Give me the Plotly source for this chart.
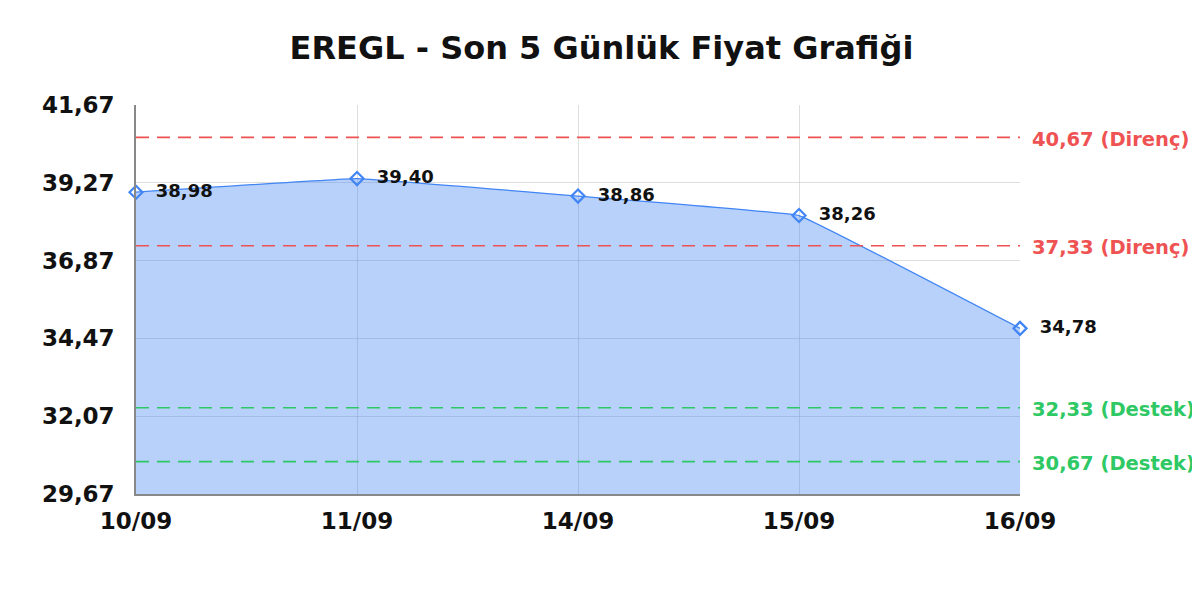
import plotly.graph_objects as go

dates = ["10/09", "11/09", "14/09", "15/09", "16/09"]
prices = [38.98, 39.40, 38.86, 38.26, 34.78]
price_labels = ["38,98", "39,40", "38,86", "38,26", "34,78"]
y_ticks = [29.67, 32.07, 34.47, 36.87, 39.27, 41.67]
y_tick_labels = ["29,67", "32,07", "34,47", "36,87", "39,27", "41,67"]
resistance = [40.67, 37.33]
resistance_labels = ["40,67 (Direnç)", "37,33 (Direnç)"]
support = [32.33, 30.67]
support_labels = ["32,33 (Destek)", "30,67 (Destek)"]

FONT = "DejaVu Sans"
RED = "rgb(238,82,82)"
GREEN = "rgb(46,200,100)"
BLUE = "rgb(66,133,244)"

fig = go.Figure()
xi = list(range(len(dates)))
fig.add_trace(go.Scatter(
    x=xi, y=prices, mode="lines+markers+text",
    line=dict(color=BLUE, width=1.3, shape="spline", smoothing=0.15),
    fill="tozeroy", fillcolor="rgba(66,133,244,0.38)",
    marker=dict(symbol="diamond-open", size=10, color=BLUE, line=dict(width=2.2, color=BLUE)),
    text=["  " + t for t in price_labels], textposition="middle right",
    textfont=dict(family=FONT, size=18, color="#111", weight="bold"),
    cliponaxis=False, showlegend=False, hoverinfo="skip",
))

shapes = []
annotations = []
for v, lab in zip(resistance, resistance_labels):
    shapes.append(dict(type="line", xref="paper", x0=0, x1=1, yref="y", y0=v, y1=v,
                       line=dict(color=RED, width=1.6, dash="13px,8px"), layer="above"))
    annotations.append(dict(xref="paper", x=1, xanchor="left", xshift=10, yref="y", y=v,
                            yshift=-2, text=lab, showarrow=False,
                            font=dict(family=FONT, size=19.5, color=RED, weight="bold")))
for v, lab in zip(support, support_labels):
    shapes.append(dict(type="line", xref="paper", x0=0, x1=1, yref="y", y0=v, y1=v,
                       line=dict(color=GREEN, width=1.6, dash="13px,8px"), layer="above"))
    annotations.append(dict(xref="paper", x=1, xanchor="left", xshift=10, yref="y", y=v,
                            yshift=-2, text=lab, showarrow=False,
                            font=dict(family=FONT, size=19.5, color=GREEN, weight="bold")))

fig.update_layout(
    width=1200, height=600,
    margin=dict(l=128, r=188, t=97, b=114),
    paper_bgcolor="white", plot_bgcolor="white",
    title=dict(text="<b>EREGL - Son 5 Günlük Fiyat Grafiği</b>", x=0.4946, xanchor="center",
               y=0.933, yanchor="middle",
               font=dict(family=FONT, size=32, color="#111")),
    xaxis=dict(range=[0, 4], tickvals=xi, ticktext=dates,
               showgrid=True, gridcolor="rgba(200,200,200,0.6)", gridwidth=1,
               showline=True, linecolor="#888", linewidth=1.5,
               zeroline=False, ticks="", ticklen=0, ticklabelstandoff=6,
               tickfont=dict(family=FONT, size=23, color="#111", weight="bold")),
    yaxis=dict(range=[29.67, 41.67], tickvals=y_ticks, ticktext=y_tick_labels,
               showgrid=True, gridcolor="rgba(200,200,200,0.6)", gridwidth=1,
               showline=True, linecolor="#888", linewidth=1.5,
               zeroline=False, ticks="", ticklen=0, ticklabelstandoff=15,
               tickfont=dict(family=FONT, size=23, color="#111", weight="bold")),
    shapes=shapes, annotations=annotations,
)
fig.write_html("out.html")
